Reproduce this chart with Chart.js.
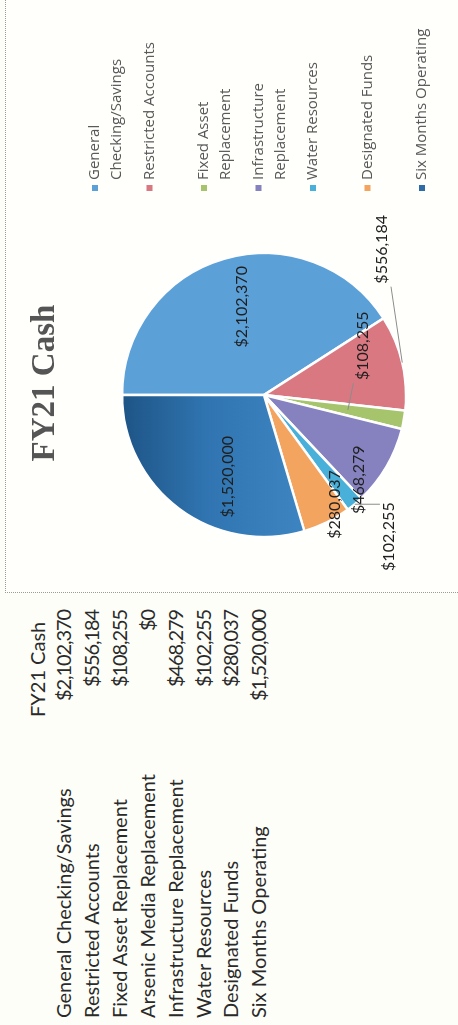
<!DOCTYPE html>
<html>
<head>
<meta charset="utf-8">
<script src="https://cdn.jsdelivr.net/npm/chart.js@4"></script>
<style>
  html, body { margin: 0; padding: 0; }
  body { width: 458px; height: 1025px; overflow: hidden; background: #fefef9; }
  /* the sheet is laid out landscape and turned a quarter left */
  #sheet {
    position: absolute; left: 0; top: 0; width: 1025px; height: 458px;
    transform-origin: 0 0; transform: translate(0px, 1025px) rotate(-90deg);
    font-family: Lato, "Open Sans", sans-serif; color: #2a2a2a;
  }
  .cell { position: absolute; font-size: 20px; line-height: 28px; white-space: nowrap; }
  .num { text-align: right; letter-spacing: -1.1px; }
  #frame {
    position: absolute; left: 432px; top: 5px; width: 640px; height: 480px;
    border-left: 1px dotted #9a9a9a; border-top: 1px dotted #9a9a9a; background: #fffffc;
  }
  #pie { position: absolute; left: 432px; top: 5px; }
</style>
</head>
<body>
<div id="sheet">
  <div id="table"></div>
  <div id="frame"></div>
  <canvas id="pie" width="600" height="460"></canvas>
</div>
<script>
// FY21 cash balances by account
const columnTitle = 'FY21 Cash';
const accounts = [
  'General Checking/Savings',
  'Restricted Accounts',
  'Fixed Asset Replacement',
  'Arsenic Media Replacement',
  'Infrastructure Replacement',
  'Water Resources',
  'Designated Funds',
  'Six Months Operating'
];
const balances = [2102370, 556184, 108255, 0, 468279, 102255, 280037, 1520000];
const sliceColors = ['#5ca0d8', '#da7882', '#a6c46b', '#8582bf', '#49b0d9', '#f3a45f', '#2d6ca6'];

const money = v => '$' + v.toLocaleString('en-US');

// ---- worksheet table ----
const table = document.getElementById('table');
const rowStep = 27.9, firstRow = 49;
function cell(text, cls, left, top, width) {
  const d = document.createElement('div');
  d.className = 'cell ' + cls;
  d.textContent = text;
  d.style.left = left + 'px';
  d.style.top = top + 'px';
  if (width) d.style.width = width + 'px';
  table.appendChild(d);
}
cell(columnTitle, '', 308, firstRow - 26);
accounts.forEach((name, i) => {
  const top = firstRow + i * rowStep;
  cell(name, '', 7, top);
  cell(money(balances[i]), 'num', 300, top, 115);
});

// ---- pie data: accounts holding a balance ----
const pieLabels = accounts.filter((_, i) => balances[i] > 0);
const pieValues = balances.filter(v => v > 0);

// where each value label sits: turn (deg) from the slice middle, reach as a share of the radius,
// tip = radius share where a leader line meets the slice
const labelSpots = {
  'General Checking/Savings':   { turn: 2.3,   reach: 0.64 },
  'Restricted Accounts':        { turn: -37.8, reach: 1.32, tip: 1.0 },
  'Fixed Asset Replacement':    { turn: -36.7, reach: 0.775, tip: 0.6 },
  'Infrastructure Replacement': { turn: 11.5,  reach: 0.895 },
  'Water Resources':            { turn: -1.7,  reach: 1.33, tip: 1.0 },
  'Designated Funds':           { turn: -6.7,  reach: 0.92 },
  'Six Months Operating':       { turn: -12.8, reach: 0.63 }
};

const sliceLabels = {
  id: 'sliceLabels',
  afterDatasetsDraw(chart) {
    const ctx = chart.ctx;
    const meta = chart.getDatasetMeta(0);
    ctx.save();
    ctx.font = '16px Lato';
    ctx.textAlign = 'center';
    ctx.textBaseline = 'middle';
    meta.data.forEach((arc, i) => {
      const p = arc.getProps(['x', 'y', 'startAngle', 'endAngle', 'outerRadius'], true);
      const spot = labelSpots[pieLabels[i]];
      const mid = (p.startAngle + p.endAngle) / 2;
      const a = mid + spot.turn * Math.PI / 180;
      const lx = p.x + Math.cos(a) * p.outerRadius * spot.reach;
      const ly = p.y + Math.sin(a) * p.outerRadius * spot.reach;
      const text = money(pieValues[i]);
      const w = ctx.measureText(text).width;
      if (spot.tip != null) {
        const tx = p.x + Math.cos(mid) * p.outerRadius * spot.tip;
        const ty = p.y + Math.sin(mid) * p.outerRadius * spot.tip;
        const bx0 = lx - w / 2 - 3, bx1 = lx + w / 2 + 3, by0 = ly - 9, by1 = ly + 9;
        const sx = Math.min(Math.max(tx, bx0), bx1);
        const sy = Math.min(Math.max(ty, by0), by1);
        ctx.strokeStyle = '#8c8c8c';
        ctx.lineWidth = 1;
        ctx.beginPath();
        ctx.moveTo(sx, sy);
        ctx.lineTo(tx, ty);
        ctx.stroke();
      }
      ctx.fillStyle = '#1f1f1f';
      ctx.fillText(text, lx, ly);
    });
    ctx.restore();
  }
};

// legend on the right, entries wrapped to a fixed width and spaced evenly
const sideLegend = {
  id: 'sideLegend',
  afterDraw(chart) {
    const ctx = chart.ctx;
    ctx.save();
    ctx.font = '15px "Open Sans"';
    ctx.textAlign = 'left';
    ctx.textBaseline = 'middle';
    const x0 = 405, top = 90, step = 54.5, lineStep = 22, wrapAt = 160;
    chart.data.labels.forEach((name, i) => {
      const y = top + i * step;
      ctx.fillStyle = sliceColors[i];
      ctx.fillRect(x0 - 3, y - 3, 6, 6);
      const words = name.split(' ');
      const lines = [];
      let cur = '';
      words.forEach(wd => {
        const t = cur ? cur + ' ' + wd : wd;
        if (cur && ctx.measureText(t).width > wrapAt) { lines.push(cur); cur = wd; } else cur = t;
      });
      lines.push(cur);
      ctx.fillStyle = '#595959';
      lines.forEach((ln, k) => ctx.fillText(ln, x0 + 8, y + k * lineStep));
    });
    ctx.restore();
  }
};

const heading = {
  id: 'heading',
  afterDraw(chart) {
    const ctx = chart.ctx;
    ctx.save();
    ctx.font = 'bold 33px "Liberation Serif"';
    ctx.fillStyle = '#555555';
    ctx.textAlign = 'center';
    ctx.textBaseline = 'middle';
    ctx.fillText(columnTitle, 210, 40);
    ctx.restore();
  }
};

// slice fill: the last (darkest) slice is shaded from its top edge downward
function sliceFill(context) {
  const i = context.dataIndex;
  const area = context.chart.chartArea;
  if (i !== sliceColors.length - 1 || !area) return sliceColors[i];
  const g = context.chart.ctx.createLinearGradient(0, area.top, 0, area.top + 190);
  g.addColorStop(0, '#1e5486');
  g.addColorStop(0.45, '#3075b1');
  g.addColorStop(1, '#3e86c3');
  return g;
}

const canvas = document.getElementById('pie');
new Chart(canvas, {
  type: 'pie',
  data: {
    labels: pieLabels,
    datasets: [{
      data: pieValues,
      backgroundColor: sliceFill,
      borderColor: '#ffffff',
      borderWidth: 2.5,
      radius: 142
    }]
  },
  options: {
    responsive: false,
    animation: false,
    events: [],
    layout: { padding: { left: 56, top: 117, right: 260, bottom: 59 } },
    plugins: { legend: { display: false }, title: { display: false }, tooltip: { enabled: false } },
    elements: { arc: { hoverOffset: 0 } }
  },
  plugins: [sliceLabels, sideLegend, heading]
});
</script>
</body>
</html>
